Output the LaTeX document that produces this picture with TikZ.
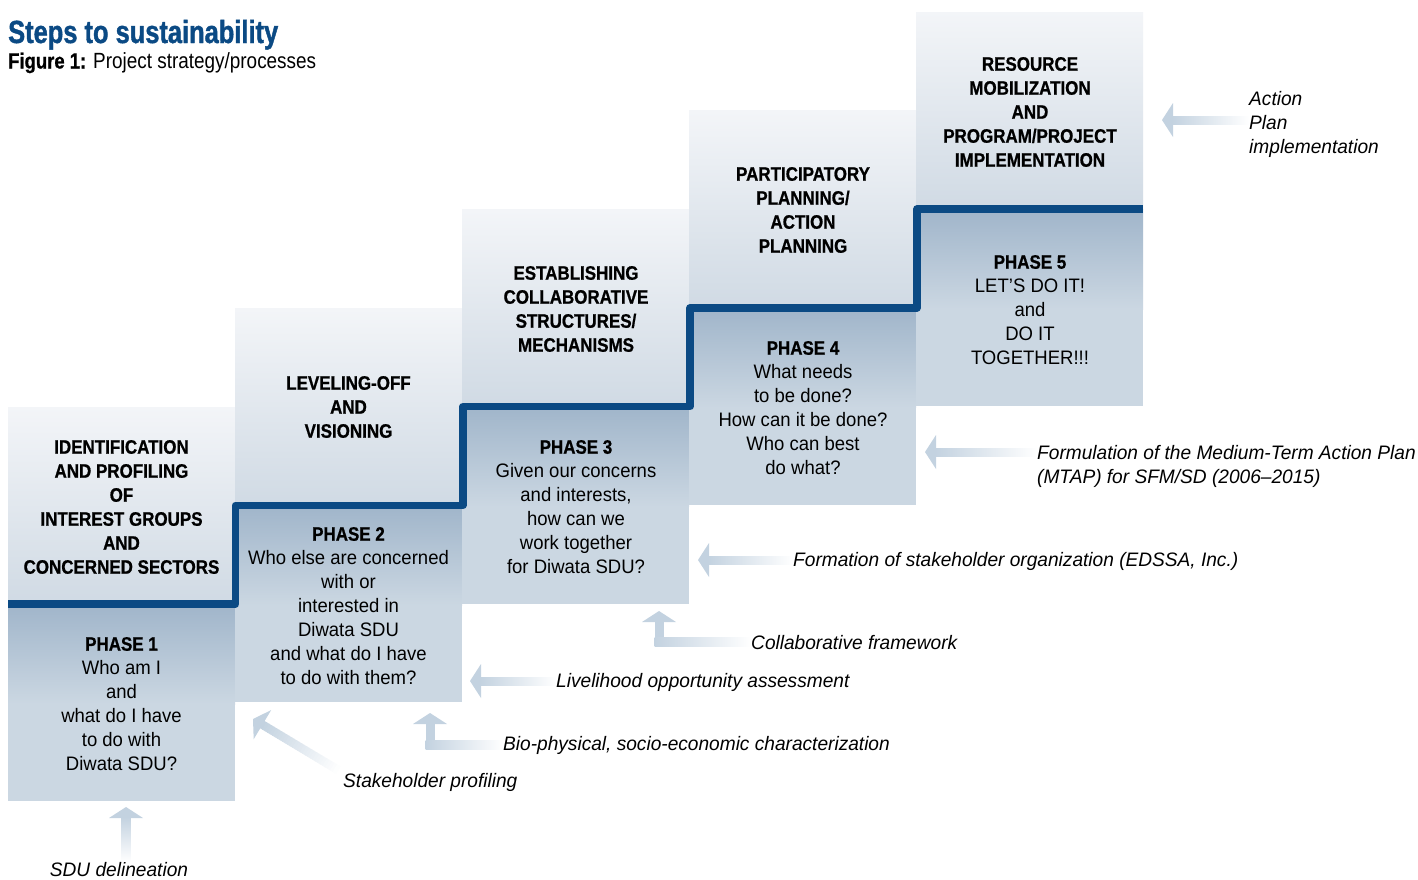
\documentclass[tikz,border=0pt]{standalone}
\usepackage{fontspec}
\setmainfont{Liberation Sans}
\newfontfamily\regf{Liberation Sans}[FakeStretch=0.95]
\newfontfamily\boldf{Liberation Sans}[FakeStretch=0.87, FakeBold=0.8]
\newfontfamily\itf{Liberation Sans}[FakeStretch=0.98]
\newfontfamily\titlef{Liberation Sans}[FakeStretch=0.795, FakeBold=1.2]
\newfontfamily\capregf{Liberation Sans}[FakeStretch=0.86]
\newfontfamily\capboldf{Liberation Sans}[FakeStretch=0.84, FakeBold=0.8]
\usetikzlibrary{calc}
\definecolor{navy}{HTML}{0B4A84}
\definecolor{uptop}{HTML}{F3F5F8}
\definecolor{upmid}{HTML}{ECF0F4}
\definecolor{upbot}{HTML}{D0DAE4}
\definecolor{lowtop}{HTML}{A0B5CA}
\definecolor{lowbot}{HTML}{CBD7E2}
\definecolor{arrc}{HTML}{C3D2E0}
\newcommand\leftarr[2]{%
  \fill[arrc] (#1) -- ++(11,-17) -- ++(0,34) -- cycle;
  \shade[left color=arrc, right color=white] ($(#1)+(10,-4)$) rectangle ($(#1 -| #2)+(0,4)$);
}
\newcommand\uparr[2]{%
  \fill[arrc] (#1) -- ++(-17,11) -- ++(34,0) -- cycle;
  \shade[top color=arrc, bottom color=white] ($(#1)+(-4.5,10)$) rectangle ($(#1 |- #2)+(4.5,0)$);
}
\newcommand\elbarr[2]{%
  \fill[arrc] (#1) -- ++(-17,11) -- ++(34,0) -- cycle;
  \fill[arrc] ($(#1)+(-4.5,10)$) rectangle ($(#1 |- #2)+(4.5,4.5)$);
  \shade[left color=arrc, right color=white] ($(#1 |- #2)+(-4.5,-4.5)$) rectangle ($(#2)+(0,4.5)$);
}
\begin{document}
\begin{tikzpicture}[x=1pt,y=-1pt,
  head/.style={font=\boldf\bfseries\fontsize{19.5}{24}\selectfont, align=center, inner sep=0pt},
  body/.style={font=\regf\fontsize{19.5}{24}\selectfont, align=center, inner sep=0pt},
  lab/.style={font=\itf\itshape\fontsize{19.5}{24}\selectfont, inner sep=0pt},
  stair/.style={draw=navy, line width=7.5pt, line join=round},
]
\useasboundingbox (0,0) rectangle (1418,879);
\fill[white] (0,0) rectangle (1418,879);

% columns
\foreach \i in {0,...,4} {
  \pgfmathsetmacro\xa{8+227*\i}
  \pgfmathsetmacro\xb{\xa+227}
  \pgfmathsetmacro\yt{407-98.75*\i}
  \pgfmathsetmacro\yl{\yt+197}
  \pgfmathsetmacro\yb{\yt+394}
  \shade[top color=uptop, middle color=upmid, bottom color=upbot] (\xa,\yt) rectangle (\xb,\yl);
  \shade[top color=lowtop, bottom color=lowbot] (\xa,\yl) rectangle (\xb,\yl+100);
  \fill[lowbot] (\xa,\yl+99.5) rectangle (\xb,\yb);
}
\draw[stair] (8,604) -- (235.5,604) -- (235.5,505.25) -- (463,505.25) -- (463,406.5)
  -- (690,406.5) -- (690,307.75) -- (917,307.75) -- (917,209) -- (1143,209);

% title
\node[anchor=base west, inner sep=0pt, font=\titlef\bfseries\fontsize{32}{36}\selectfont, text=navy] (title) at (8,43) {Steps to sustainability};
\node[anchor=base west, inner sep=0pt, font=\capregf\fontsize{22}{26}\selectfont] (sub) at (8,68.5) {{\capboldf\bfseries Figure 1:} Project strategy/processes};

% column texts
\node[head] (h1) at (121.5,507) {IDENTIFICATION\\AND PROFILING\\OF\\INTEREST GROUPS\\AND\\CONCERNED SECTORS};
\node[body] (p1) at (121.5,704) {{\boldf\bfseries PHASE 1}\\Who am I\\and\\what do I have\\to do with\\Diwata SDU?};
\node[head] (h2) at (348.5,407) {LEVELING-OFF\\AND\\VISIONING};
\node[body] (p2) at (348.5,606) {{\boldf\bfseries PHASE 2}\\Who else are concerned\\with or\\interested in\\Diwata SDU\\and what do I have\\to do with them?};
\node[head] (h3) at (576,309) {ESTABLISHING\\COLLABORATIVE\\STRUCTURES/\\MECHANISMS};
\node[body] (p3) at (576,507) {{\boldf\bfseries PHASE 3}\\Given our concerns\\and interests,\\how can we\\work together\\for Diwata SDU?};
\node[head] (h4) at (803,210) {PARTICIPATORY\\PLANNING/\\ACTION\\PLANNING};
\node[body] (p4) at (803,408) {{\boldf\bfseries PHASE 4}\\What needs\\to be done?\\How can it be done?\\Who can best\\do what?};
\node[head] (h5) at (1030,112) {RESOURCE\\MOBILIZATION\\AND\\PROGRAM/PROJECT\\IMPLEMENTATION};
\node[body] (p5) at (1030,310) {{\boldf\bfseries PHASE 5}\\LET’S DO IT!\\and\\DO IT\\TOGETHER!!!};

% labels
\node[lab, anchor=base] (lsdu) at (119,876) {SDU delineation};
\node[lab, anchor=base west] (lstk) at (343,787) {Stakeholder profiling};
\node[lab, anchor=base west] (lbio) at (503,750) {Bio-physical, socio-economic characterization};
\node[lab, anchor=base west] (lliv) at (556,687) {Livelihood opportunity assessment};
\node[lab, anchor=base west] (lcol) at (751,649) {Collaborative framework};
\node[lab, anchor=base west] (lform) at (793,566) {Formation of stakeholder organization (EDSSA, Inc.)};
\node[lab, anchor=north west, align=left] (lmtap) at (1037,445) {Formulation of the Medium-Term Action Plan\\(MTAP) for SFM/SD (2006–2015)};
\node[lab, anchor=north west, align=left] (lact) at (1249,91) {Action\\Plan\\implementation};

% arrow tips
\coordinate (tsdu) at (126,807);
\coordinate (tstk) at (253,719);
\coordinate (tstktail) at (338,770);
\coordinate (tbio) at (430,713);
\coordinate (tliv) at (470,681);
\coordinate (tcol) at (659,611);
\coordinate (tform) at (698,560);
\coordinate (tmtap) at (925,452);
\coordinate (tact) at (1162,120);

% arrows
\uparr{tsdu}{lsdu.north}
\elbarr{tbio}{lbio.west}
\leftarr{tliv}{lliv.west}
\elbarr{tcol}{lcol.west}
\leftarr{tform}{lform.west}
\leftarr{tmtap}{lmtap.west}
\leftarr{tact}{lact.west}
% diagonal arrow (stakeholder profiling)
\coordinate (bstk) at ($(tstk)!11pt!(tstktail)$);
\fill[arrc] (tstk) -- ($(bstk)!17pt!90:(tstktail)$) -- ($(bstk)!17pt!-90:(tstktail)$) -- cycle;
\foreach \k in {0,...,29} {
  \pgfmathtruncatemacro\pct{100-3.33*\k}
  \draw[line width=8.5pt, color=arrc!\pct!white] ($(bstk)!{(\k-0.3)/30}!(tstktail)$) -- ($(bstk)!{(\k+1)/30}!(tstktail)$);
}
\end{tikzpicture}
\end{document}
